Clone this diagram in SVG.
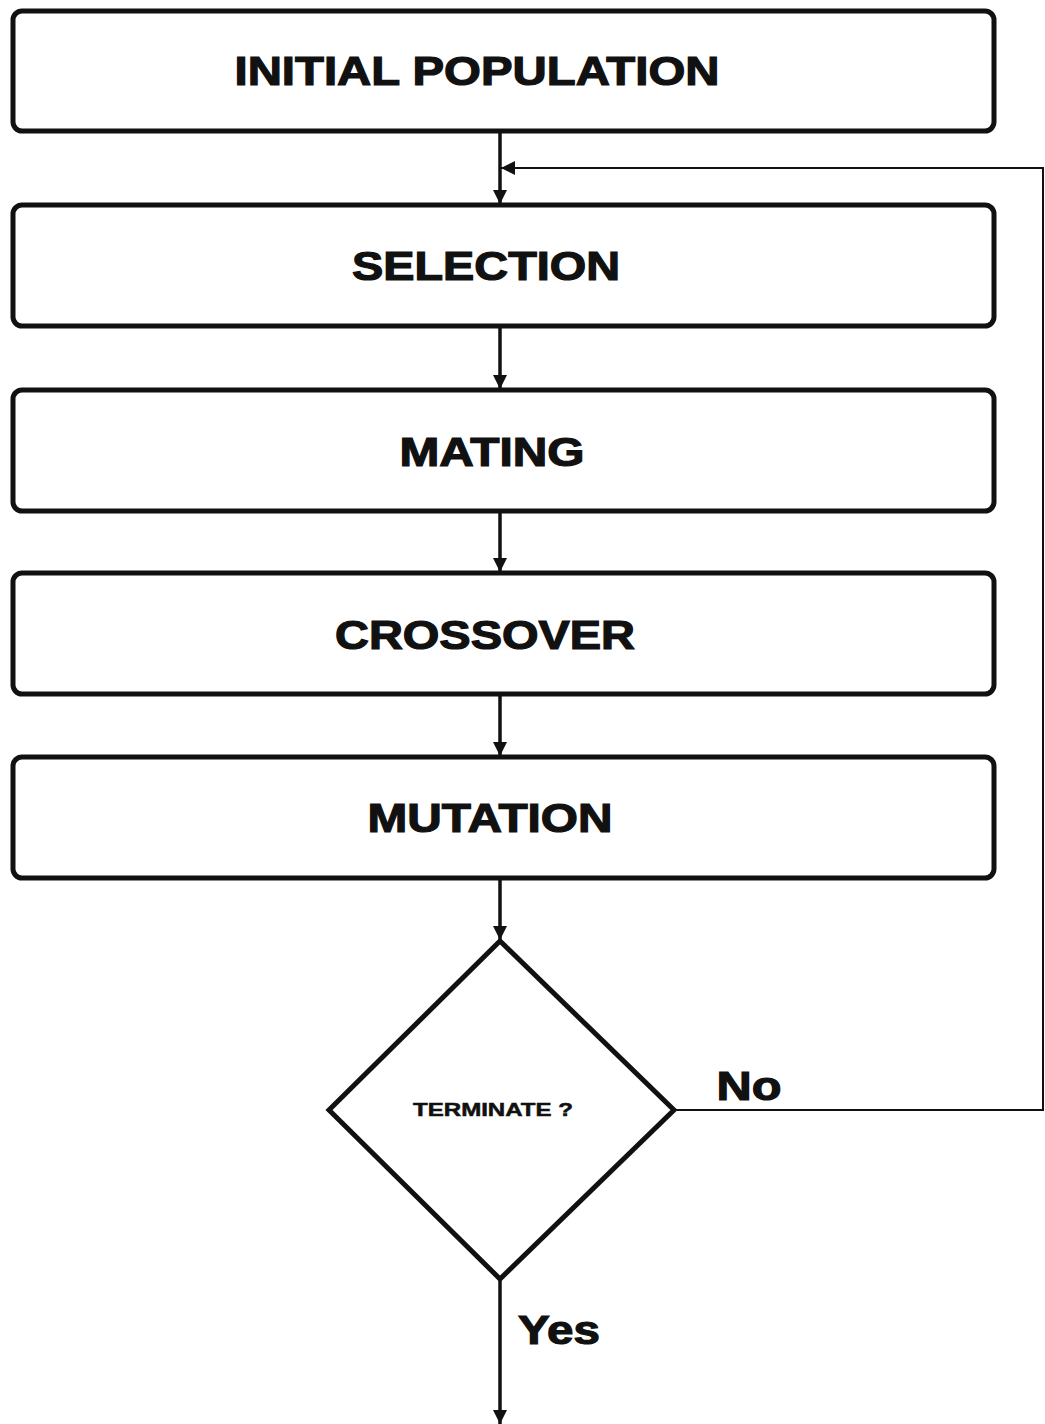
<svg xmlns="http://www.w3.org/2000/svg" width="1045" height="1424" viewBox="0 0 1045 1424">
<style>
.box{fill:#fff;stroke:#111;stroke-width:5}
.lbl{font-family:"Liberation Sans",Arial,sans-serif;font-weight:bold;font-size:40px;fill:#111;stroke:#111;stroke-width:1.2;text-anchor:middle;dominant-baseline:central}
.con{fill:none;stroke:#111;stroke-width:3.5}
.fb{fill:none;stroke:#111;stroke-width:2}
</style>
<defs>
<marker id="ahs" viewBox="0 0 10 10" refX="10" refY="5" markerWidth="14" markerHeight="14" markerUnits="userSpaceOnUse" orient="auto"><path d="M0,0 L10,5 L0,10 z" fill="#111"/></marker>
</defs>
<g id="connectors">
<path class="con" d="M500,131 V204" marker-end="url(#ahs)"/>
<path class="con" d="M500,327 V389" marker-end="url(#ahs)"/>
<path class="con" d="M500,512 V572" marker-end="url(#ahs)"/>
<path class="con" d="M500,695 V756" marker-end="url(#ahs)"/>
<path class="con" d="M500,879 V940" marker-end="url(#ahs)"/>
<path class="fb" d="M675,1110 H1043 V168 H501" marker-end="url(#ahs)"/>
<path class="con" d="M500,1280 V1424" marker-end="url(#ahs)"/>
</g>
<g id="n1"><rect class="box" x="13" y="11" width="981" height="120" rx="9"/><text class="lbl" x="477" y="71" textLength="485" lengthAdjust="spacingAndGlyphs">INITIAL POPULATION</text></g>
<g id="n2"><rect class="box" x="13" y="205" width="981" height="121" rx="9"/><text class="lbl" x="486" y="266" textLength="268" lengthAdjust="spacingAndGlyphs">SELECTION</text></g>
<g id="n3"><rect class="box" x="13" y="390" width="981" height="121" rx="9"/><text class="lbl" x="492" y="452" textLength="185" lengthAdjust="spacingAndGlyphs">MATING</text></g>
<g id="n4"><rect class="box" x="13" y="573" width="981" height="121" rx="9"/><text class="lbl" x="485" y="635" textLength="300" lengthAdjust="spacingAndGlyphs">CROSSOVER</text></g>
<g id="n5"><rect class="box" x="13" y="757" width="981" height="121" rx="9"/><text class="lbl" x="490" y="818" textLength="245" lengthAdjust="spacingAndGlyphs">MUTATION</text></g>
<g id="n6"><path class="box" d="M500,941 L674,1110 L500,1279 L329,1110 Z" stroke-width="6"/><text class="lbl" x="493" y="1110" style="font-size:18px;stroke-width:0.5" textLength="160" lengthAdjust="spacingAndGlyphs">TERMINATE ?</text></g>
<text class="lbl" x="749" y="1086" textLength="65" lengthAdjust="spacingAndGlyphs">No</text>
<text class="lbl" x="559" y="1330" textLength="82" lengthAdjust="spacingAndGlyphs">Yes</text>
</svg>
